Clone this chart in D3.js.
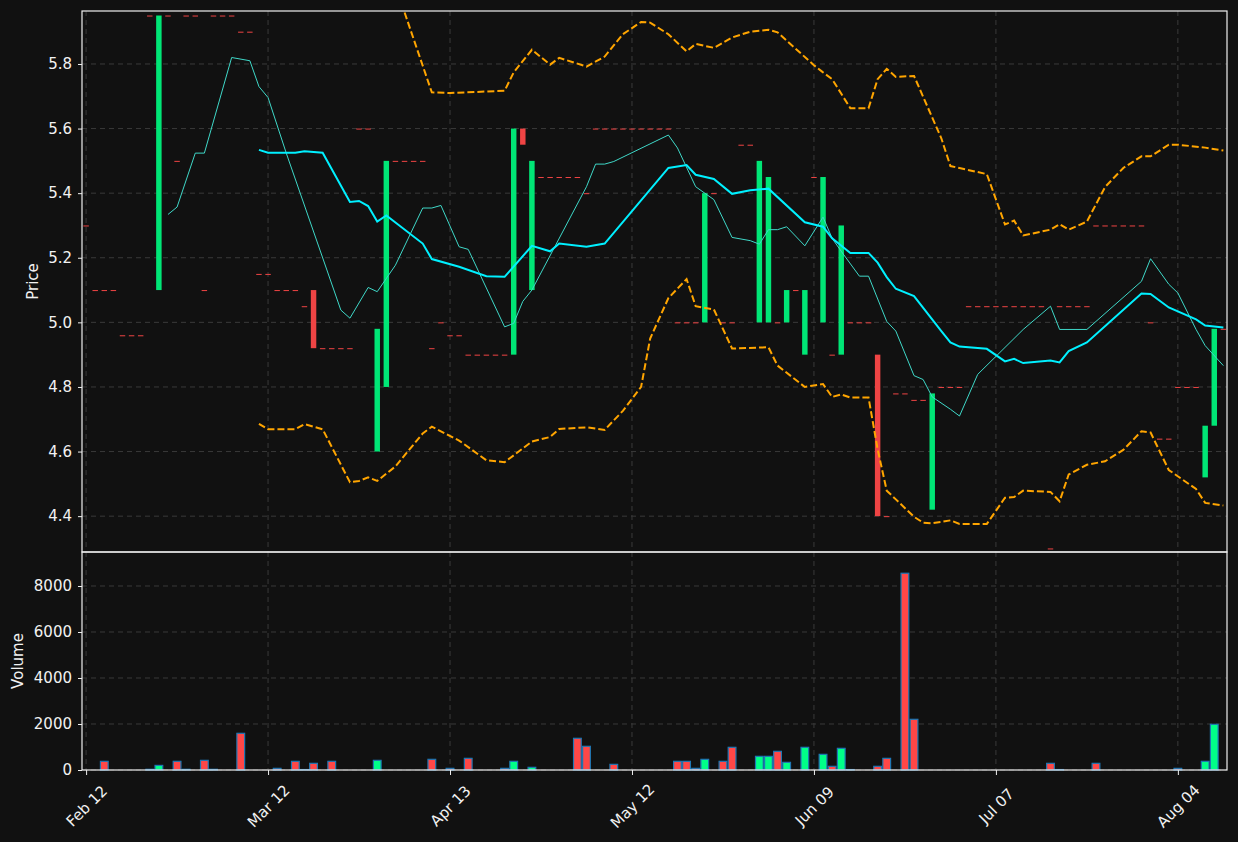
<!DOCTYPE html>
<html>
<head>
<meta charset="utf-8">
<script src="https://cdn.jsdelivr.net/npm/d3@7"></script>
<style>
  body { margin: 0; background: #111111; }
  svg { display: block; }
  text { font-family: "DejaVu Sans", sans-serif; fill: #f2f2f2; }
</style>
</head>
<body>
<svg width="1238" height="842"></svg>
<script>
// candle data, one entry per slot
var opens = [5.30,5.10,5.10,5.10,4.96,4.96,4.96,5.95,5.10,5.95,
  5.50,5.95,5.95,5.10,5.95,5.95,5.95,5.90,5.90,5.15,
  5.15,5.10,5.10,5.10,5.05,5.10,4.92,4.92,4.92,4.92,
  5.60,5.60,4.60,4.80,5.50,5.50,5.50,5.50,4.92,5.00,
  4.96,4.96,4.90,4.90,4.90,4.90,4.90,4.90,5.60,5.10,
  5.45,5.45,5.45,5.45,5.45,5.40,5.60,5.60,5.60,5.60,
  5.60,5.60,5.60,5.60,5.60,5.00,5.00,5.00,5.00,5.40,
  5.00,5.00,5.55,5.55,5.00,5.00,5.00,5.00,5.10,4.90,
  5.45,5.00,4.90,4.90,5.00,5.00,5.00,4.90,4.40,4.78,
  4.78,4.76,4.76,4.42,4.80,4.80,4.80,5.05,5.05,5.05,
  5.05,5.05,5.05,5.05,5.05,5.05,4.30,5.05,5.05,5.05,
  5.05,5.30,5.30,5.30,5.30,5.30,5.30,5.00,4.64,4.64,
  4.80,4.80,4.80,4.52,4.68,4.98];
var closes = [5.30,5.10,5.10,5.10,4.96,4.96,4.96,5.95,5.95,5.95,
  5.50,5.95,5.95,5.10,5.95,5.95,5.95,5.90,5.90,5.15,
  5.15,5.10,5.10,5.10,5.05,4.92,4.92,4.92,4.92,4.92,
  5.60,5.60,4.98,5.50,5.50,5.50,5.50,5.50,4.92,5.00,
  4.96,4.96,4.90,4.90,4.90,4.90,4.90,5.60,5.55,5.50,
  5.45,5.45,5.45,5.45,5.45,5.40,5.60,5.60,5.60,5.60,
  5.60,5.60,5.60,5.60,5.60,5.00,5.00,5.00,5.40,5.40,
  5.00,5.00,5.55,5.55,5.50,5.45,5.00,5.10,5.10,5.10,
  5.45,5.45,4.90,5.30,5.00,5.00,5.00,4.40,4.40,4.78,
  4.78,4.76,4.76,4.78,4.80,4.80,4.80,5.05,5.05,5.05,
  5.05,5.05,5.05,5.05,5.05,5.05,4.30,5.05,5.05,5.05,
  5.05,5.30,5.30,5.30,5.30,5.30,5.30,5.00,4.64,4.64,
  4.80,4.80,4.80,4.68,4.98,4.98];
var volumes = [0,0,377,0,0,0,0,30,200,0,
  377,30,0,420,30,0,0,1595,0,0,
  0,72,0,377,20,290,0,377,0,0,
  0,0,420,0,0,0,0,0,464,0,
  72,0,507,0,0,0,72,377,0,116,
  0,0,0,0,1378,1030,0,0,246,0,
  0,0,0,0,0,377,377,72,464,0,
  377,986,0,0,594,594,812,333,0,986,
  0,681,160,942,20,0,0,160,507,0,
  8555,2204,0,0,0,0,0,0,0,0,
  0,0,0,0,0,0,290,20,0,0,
  0,290,0,0,0,0,0,0,0,0,
  72,0,0,377,1986,0];

// overlay lines as [slot, value]
var maFast = [[9,5.334],[10,5.357],[12,5.524],[13,5.524],[16,5.82],[18,5.81],[19,5.73],[20,5.696],
  [22,5.524],[28,5.038],[29,5.013],[31,5.108],[32,5.095],[34,5.177],[37,5.354],[38,5.354],[39,5.362],
  [41,5.234],[42,5.226],[46,4.986],[47,4.997],[48,5.065],[49,5.10],[55,5.42],[56,5.49],[57,5.49],
  [58,5.498],[64,5.58],[65,5.54],[67,5.42],[69,5.38],[71,5.263],[73,5.253],[74,5.242],[75,5.287],
  [76,5.287],[77,5.296],[79,5.237],[81,5.326],[82,5.26],[83,5.22],[85,5.143],[86,5.143],[88,5.003],
  [89,4.973],[91,4.835],[92,4.823],[93,4.769],[95,4.731],[96,4.71],[98,4.839],[103,4.978],[106,5.05],
  [107,4.978],[110,4.978],[116,5.127],[117,5.197],[119,5.118],[120,5.091],[122,4.978],[123,4.928],[125,4.866]];
var maSlow = [[19,5.534],[20,5.525],[23,5.525],[24,5.53],[26,5.525],[29,5.373],[30,5.376],[31,5.36],
  [32,5.312],[33,5.331],[37,5.244],[38,5.196],[41,5.172],[44,5.143],[46,5.141],[49,5.237],[51,5.22],
  [52,5.244],[55,5.234],[57,5.244],[64,5.478],[66,5.487],[67,5.457],[69,5.444],[71,5.398],[73,5.409],
  [75,5.414],[79,5.31],[81,5.296],[82,5.26],[84,5.215],[86,5.215],[87,5.185],[88,5.14],[89,5.104],
  [91,5.081],[94,4.973],[95,4.938],[96,4.925],[99,4.918],[101,4.879],[102,4.887],[103,4.874],
  [106,4.882],[107,4.876],[108,4.911],[110,4.938],[116,5.089],[117,5.088],[119,5.046],[122,5.009],
  [123,4.99],[125,4.984]];
var bandUpper = [[19,6.38],[31,6.38],[32,6.30],[33,6.20],[34,6.06],[35,5.96],[38,5.712],[40,5.71],
  [46,5.717],[47,5.774],[49,5.844],[51,5.798],[52,5.819],[55,5.792],[57,5.823],[59,5.892],[61,5.93],
  [62,5.928],[64,5.892],[66,5.839],[67,5.862],[69,5.85],[71,5.882],[73,5.90],[75,5.906],[76,5.898],
  [80,5.796],[81,5.774],[82,5.753],[84,5.663],[86,5.663],[87,5.753],[88,5.785],[89,5.76],[91,5.763],
  [94,5.57],[95,5.484],[99,5.459],[101,5.303],[102,5.315],[103,5.269],[106,5.287],[107,5.304],
  [108,5.287],[110,5.312],[112,5.419],[114,5.478],[116,5.514],[117,5.514],[119,5.55],[120,5.55],
  [123,5.541],[125,5.532]];
var bandLower = [[19,4.686],[20,4.669],[23,4.669],[24,4.685],[26,4.669],[29,4.505],[30,4.509],
  [31,4.52],[32,4.509],[34,4.554],[37,4.656],[38,4.677],[41,4.634],[44,4.573],[46,4.567],[49,4.631],
  [51,4.645],[52,4.67],[55,4.675],[57,4.667],[59,4.726],[61,4.80],[62,4.95],[64,5.075],[66,5.134],
  [67,5.05],[69,5.04],[71,4.919],[75,4.923],[76,4.866],[79,4.80],[81,4.809],[82,4.769],[83,4.777],
  [84,4.767],[86,4.767],[87,4.607],[88,4.479],[89,4.452],[91,4.398],[92,4.38],[93,4.378],[94,4.382],
  [95,4.387],[96,4.376],[99,4.376],[101,4.457],[102,4.459],[103,4.479],[106,4.475],[107,4.446],
  [108,4.529],[110,4.559],[112,4.57],[114,4.605],[116,4.663],[117,4.659],[119,4.543],[122,4.484],
  [123,4.441],[125,4.433]];

var tickSlots = [0, 20, 40, 60, 80, 100, 120];
var tickLabels = ["Feb 12", "Mar 12", "Apr 13", "May 12", "Jun 09", "Jul 07", "Aug 04"];
var priceTicks = [4.4, 4.6, 4.8, 5.0, 5.2, 5.4, 5.6, 5.8];
var volumeTicks = [0, 2000, 4000, 6000, 8000];

var upColor = "#00e676", downColor = "#ef4444";
var volUp = "#00ff88", volDown = "#ff4747";

const svg = d3.select('svg');
const left = 82, right = 1227, priceTop = 11, priceBottom = 552, volBottom = 770;

const x = d3.scaleLinear().domain([-0.45, 125.4]).range([left, right]);
const yP = d3.scaleLinear().domain([4.289, 5.964]).range([priceBottom, priceTop]);
const yV = d3.scaleLinear().domain([0, 9478]).range([volBottom, priceBottom]);
const slot = x(1) - x(0);

svg.append('clipPath').attr('id', 'clipP').append('rect')
  .attr('x', left).attr('y', priceTop).attr('width', right - left).attr('height', priceBottom - priceTop);

// grid
function grid(yScale, ticks, y0, y1) {
  const g = svg.append('g').attr('stroke', '#3a3a3a').attr('stroke-dasharray', '5,4').attr('stroke-width', 1);
  g.selectAll('.h').data(ticks).enter().append('line')
    .attr('x1', left).attr('x2', right).attr('y1', d => yScale(d)).attr('y2', d => yScale(d));
  g.selectAll('.v').data(tickSlots).enter().append('line')
    .attr('x1', d => x(d)).attr('x2', d => x(d)).attr('y1', y0).attr('y2', y1);
}
grid(yP, priceTicks, priceTop, priceBottom);
grid(yV, volumeTicks, priceBottom, volBottom);

// candles
const pg = svg.append('g').attr('clip-path', 'url(#clipP)');
const bw = slot * 0.6;
pg.selectAll('.c').data(d3.range(opens.length)).enter().append('rect')
  .attr('x', i => x(i) - bw / 2)
  .attr('y', i => yP(Math.max(opens[i], closes[i])))
  .attr('width', bw)
  .attr('height', i => Math.max(1, Math.abs(yP(opens[i]) - yP(closes[i]))))
  .attr('fill', i => closes[i] > opens[i] ? upColor : downColor);

// overlay lines
const line = d3.line().x(d => x(d[0])).y(d => yP(d[1]));
pg.append('path').datum(bandUpper).attr('d', line).attr('fill', 'none')
  .attr('stroke', '#ffa500').attr('stroke-width', 2).attr('stroke-dasharray', '7,3');
pg.append('path').datum(bandLower).attr('d', line).attr('fill', 'none')
  .attr('stroke', '#ffa500').attr('stroke-width', 2).attr('stroke-dasharray', '7,3');
pg.append('path').datum(maFast).attr('d', line).attr('fill', 'none')
  .attr('stroke', '#3fd8c8').attr('stroke-width', 1);
pg.append('path').datum(maSlow).attr('d', line).attr('fill', 'none')
  .attr('stroke', '#00f0ff').attr('stroke-width', 2);

// volume
const vw = slot * 0.85;
svg.append('g').selectAll('rect').data(d3.range(volumes.length).filter(i => volumes[i] > 0)).enter().append('rect')
  .attr('x', i => x(i) - vw / 2)
  .attr('y', i => yV(volumes[i]))
  .attr('width', vw)
  .attr('height', i => yV(0) - yV(volumes[i]))
  .attr('fill', i => closes[i] > opens[i] ? volUp : volDown)
  .attr('stroke', '#1f77b4').attr('stroke-width', 1.2);

// frames
[[priceTop, priceBottom], [priceBottom, volBottom]].forEach(r => {
  svg.append('rect').attr('x', left).attr('y', r[0]).attr('width', right - left).attr('height', r[1] - r[0])
    .attr('fill', 'none').attr('stroke', '#f0f0f0').attr('stroke-width', 1.2);
});

// axes
function styleAxis(g) {
  g.attr('font-size', 15);
  g.select('.domain').remove();
  g.selectAll('line').attr('stroke', '#f0f0f0');
  g.selectAll('text').attr('fill', '#f2f2f2');
}
svg.append('g').attr('transform', `translate(${left},0)`)
  .call(d3.axisLeft(yP).tickValues(priceTicks).tickFormat(d3.format('.1f')).tickSize(4).tickPadding(6))
  .call(styleAxis);
svg.append('g').attr('transform', `translate(${left},0)`)
  .call(d3.axisLeft(yV).tickValues(volumeTicks).tickFormat(d => d).tickSize(4).tickPadding(6))
  .call(styleAxis);
const xa = svg.append('g').attr('transform', `translate(0,${volBottom})`)
  .call(d3.axisBottom(x).tickValues(tickSlots).tickFormat((d, i) => tickLabels[i]).tickSize(5))
  .call(styleAxis);
xa.selectAll('text').attr('text-anchor', 'middle').attr('y', 0).attr('dy', '0.35em')
  .attr('transform', 'translate(0,36) rotate(-45)');

svg.append('text').attr('transform', `translate(38,${(priceTop + priceBottom) / 2}) rotate(-90)`)
  .attr('text-anchor', 'middle').attr('font-size', 15).text('Price');
svg.append('text').attr('transform', `translate(23,${(priceBottom + volBottom) / 2}) rotate(-90)`)
  .attr('text-anchor', 'middle').attr('font-size', 15).text('Volume');
</script>
</body>
</html>
